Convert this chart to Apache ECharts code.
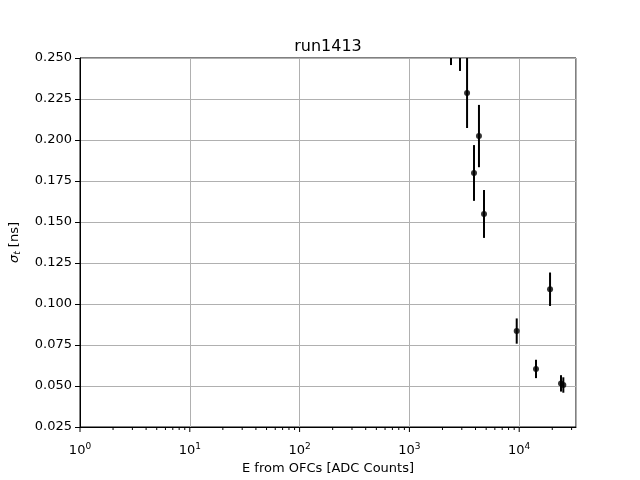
<!DOCTYPE html>
<html>
<head>
<meta charset="utf-8">
<script src="https://cdn.jsdelivr.net/npm/echarts@6/dist/echarts.min.js"></script>
<style>html,body{margin:0;padding:0;background:#fff;}#c{width:640px;height:480px;}</style>
</head>
<body>
<div id="c"></div>
<script>
const energies = [2393, 2890, 3350, 4300, 3875, 4780, 9490, 19090, 14220, 24030, 25220];
const sigmas   = [0.270, 0.266, 0.2287, 0.2024, 0.1799, 0.1549, 0.0835, 0.1090, 0.0604, 0.0516, 0.0506];
const errors   = [0.0243, 0.0239, 0.0214, 0.0190, 0.0170, 0.0146, 0.0077, 0.0102, 0.0056, 0.0050, 0.0047];
const majorTickValues = [1, 10, 100, 1000, 10000];
const minorTickValues = [];
for (let k = 0; k <= 4; k++) for (let m = 2; m <= 9; m++) { const v = m * Math.pow(10, k); if (v <= 32900) minorTickValues.push(v); }

const FONT = 'DejaVu Sans';
const pts = energies.map((e, i) => [e, sigmas[i], errors[i]]);

const tickSeries = (vals, len, lw) => ({
  type: 'custom', clip: false, silent: true, data: vals.map(v => [v, 0.025]),
  renderItem: (params, api) => {
    const p = api.coord([api.value(0), api.value(1)]);
    return {type: 'line', shape: {x1: p[0], y1: p[1], x2: p[0], y2: p[1] + len}, style: {stroke: '#000', lineWidth: lw}};
  }
});

const chart = echarts.init(document.getElementById('c'), null, {renderer: 'canvas'});
chart.setOption({
  animation: false,
  textStyle: {fontFamily: FONT},
  title: {text: 'run1413', left: 323, textAlign: 'center', top: 34, textStyle: {fontFamily: FONT, fontSize: 16, fontWeight: 'normal', color: '#000'}},
  grid: {left: 80, right: 64, top: 58, bottom: 53, show: true, borderColor: '#000', borderWidth: 1, backgroundColor: 'transparent', containLabel: false, outerBoundsMode: 'none'},
  xAxis: {
    type: 'log', logBase: 10, min: 1, max: 32900,
    name: 'E from OFCs [ADC Counts]', nameLocation: 'middle', nameGap: 33,
    nameTextStyle: {fontFamily: FONT, fontSize: 13, color: '#000'},
    axisLine: {show: true, lineStyle: {color: '#000', width: 1}},
    axisTick: {show: false},
    minorTick: {show: false},
    splitLine: {show: true, lineStyle: {color: '#b0b0b0', width: 1}},
    axisLabel: {
      color: '#000', margin: 15, showMaxLabel: false,
      formatter: v => '{b|10}{s|' + Math.round(Math.log10(v)) + '}',
      rich: {b: {fontFamily: FONT, fontSize: 13, color: '#000'}, s: {fontFamily: FONT, fontSize: 9, color: '#000', padding: [0, 0, 8, 0]}}
    }
  },
  yAxis: {
    type: 'value', min: 0.025, max: 0.25, interval: 0.025,
    name: '{i|σ}{t|t}{g| [ns]}', nameLocation: 'middle', nameGap: 58, nameRotate: 90,
    nameTextStyle: {rich: {
      g: {fontFamily: FONT, fontSize: 13, color: '#000'},
      i: {fontFamily: FONT, fontSize: 13, color: '#000', fontStyle: 'italic'},
      t: {fontFamily: FONT, fontSize: 9, color: '#000', fontStyle: 'italic', padding: [6, 0, 0, 0]}
    }},
    axisLine: {show: true, lineStyle: {color: '#000', width: 1}},
    axisTick: {show: true, inside: false, length: 5, lineStyle: {color: '#000'}},
    splitLine: {show: true, lineStyle: {color: '#b0b0b0', width: 1}},
    axisLabel: {color: '#000', fontFamily: FONT, fontSize: 13, margin: 8, formatter: v => v.toFixed(3)}
  },
  series: [
    {
      type: 'custom', clip: true, data: pts, silent: true,
      renderItem: (params, api) => {
        const x = api.value(0), y = api.value(1), e = api.value(2);
        const p1 = api.coord([x, y - e]), p2 = api.coord([x, y + e]);
        return {type: 'line', shape: {x1: p1[0], y1: p1[1], x2: p2[0], y2: p2[1]}, style: {stroke: '#000', lineWidth: 2}};
      }
    },
    {
      type: 'scatter', clip: true, data: pts.map(p => [p[0], p[1]]), symbol: 'circle', symbolSize: 6,
      itemStyle: {color: '#000'}, silent: true
    },
    tickSeries(majorTickValues, 5, 1),
    tickSeries(minorTickValues, 3, 1)
  ]
});
</script>
</body>
</html>
